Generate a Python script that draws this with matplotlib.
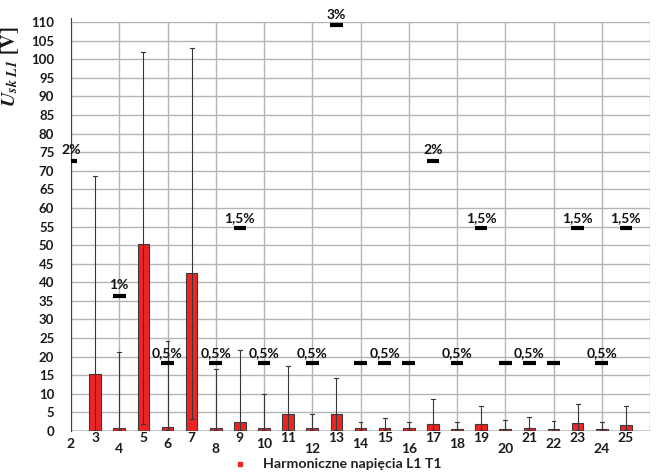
import numpy as np
import matplotlib
matplotlib.use("Agg")
import matplotlib.pyplot as plt
from matplotlib.lines import Line2D

plt.rcParams["font.family"] = ["Lato", "DejaVu Sans"]
plt.rcParams["mathtext.fontset"] = "stix"

# Harmonic orders
harmonics = list(range(2, 26))
# Mean harmonic voltage [V]
mean_v = [0.0, 15.3, 0.9, 50.2, 1.1, 42.6, 0.9, 2.3, 0.7, 4.6, 0.7, 4.6,
          0.7, 0.9, 0.7, 1.8, 0.5, 1.8, 0.5, 0.9, 0.5, 2.2, 0.5, 1.5]
# Minimum and maximum recorded values [V]
min_v = [0.0, 0.3, 0.2, 1.9, 0.2, 3.1, 0.2, 0.2, 0.2, 0.2, 0.2, 0.2,
         0.2, 0.2, 0.2, 0.2, 0.2, 0.2, 0.2, 0.2, 0.2, 0.2, 0.2, 0.2]
max_v = [0.0, 68.6, 21.2, 101.9, 24.3, 102.9, 16.7, 21.8, 10.0, 17.5, 4.5, 14.2,
         2.4, 3.6, 2.3, 8.5, 2.3, 6.6, 3.0, 3.7, 2.6, 7.3, 2.5, 6.6]
# Permitted levels in % of the reference phase voltage
limit_pct = [2.0, 5.0, 1.0, 6.0, 0.5, 5.0, 0.5, 1.5, 0.5, 3.5, 0.5, 3.0,
             0.5, 0.5, 0.5, 2.0, 0.5, 1.5, 0.5, 0.5, 0.5, 1.5, 0.5, 1.5]
limit_text = ["2%", "", "1%", "", "0,5%", "", "0,5%", "1,5%", "0,5%", "", "0,5%", "3%",
              "", "0,5%", "", "2%", "0,5%", "1,5%", "", "0,5%", "", "1,5%", "0,5%", "1,5%"]
u_ref = 6300 / np.sqrt(3)
legend_label = "Harmoniczne napięcia L1 T1"

fig = plt.figure(figsize=(6.6, 4.72), dpi=100)
ax = fig.add_axes([71 / 660, 41 / 472, 579 / 660, 409 / 472])

ax.set_xlim(2, 26)
ax.set_ylim(0, 110)
ax.set_yticks(np.arange(0, 111, 5))
ax.set_xticks(np.arange(2, 27, 2))
ax.set_xticklabels([])
ax.grid(True, color="#b4b4b4", lw=1.0)
ax.set_axisbelow(True)
for s in ("top", "right", "bottom"):
    ax.spines[s].set_visible(False)
ax.spines["left"].set_color("#404040")
ax.spines["left"].set_bounds(0, 111)
ax.axhline(0, color="#404040", lw=1.0, zorder=4)
ax.tick_params(axis="both", length=0)
ax.tick_params(axis="y", pad=12, labelsize=9.5)
for lab in ax.get_yticklabels():
    lab.set_fontweight("bold")
    lab.set_color("#1a1a1a")

# Bars of mean values
ax.bar(harmonics, mean_v, width=0.48, color="#ee2424", edgecolor="#3a3a3a",
       lw=0.8, zorder=3)

# Min-max whiskers
for h, lo, hi in zip(harmonics, min_v, max_v):
    if hi <= 0:
        continue
    ax.plot([h, h], [lo, hi], color="#383838", lw=0.8, zorder=4)
    ax.plot([h - 0.08, h + 0.08], [hi, hi], color="#383838", lw=0.8, zorder=4)
    ax.plot([h - 0.08, h + 0.08], [lo, lo], color="#383838", lw=0.8, zorder=4)

# Permitted levels
for h, p, t in zip(harmonics, limit_pct, limit_text):
    lv = p / 100 * u_ref
    if lv > 110:
        continue
    ax.hlines(lv, h - 0.26, h + 0.26, color="black", lw=3.0, zorder=5)
    if t:
        ax.annotate(t, xy=(h, lv), xytext=(0, 7.5), textcoords="offset points",
                    ha="center", va="center", fontsize=10, fontweight="bold",
                    color="#111111", zorder=6)

# Harmonic order labels, staggered
for h in harmonics:
    if h % 2 == 1:
        off = 7
    elif h % 4 == 2:
        off = 12.5
    else:
        off = 18
    ax.annotate(str(h), xy=(h, 0), xytext=(0, -off * 0.72), textcoords="offset points",
                ha="center", va="center", fontsize=10, fontweight="bold",
                color="#1a1a1a", annotation_clip=False)

ax.set_ylabel(r"$\mathbfit{U}_{\mathbfit{sk\ L1}}\ \mathbf{[V]}$", fontsize=14.5,
              color="#1a1a1a")
ax.yaxis.set_label_coords(-0.087, 0.89)

# Legend entry
fig.add_artist(Line2D([240 / 660], [8 / 472], marker="s", markersize=3.5,
                      color="#ee2424", transform=fig.transFigure, lw=0))
fig.text(263 / 660, 8 / 472, legend_label, fontsize=10.2, fontweight="bold",
         color="#222222", va="center", ha="left")

fig.savefig("out.png", dpi=100)
